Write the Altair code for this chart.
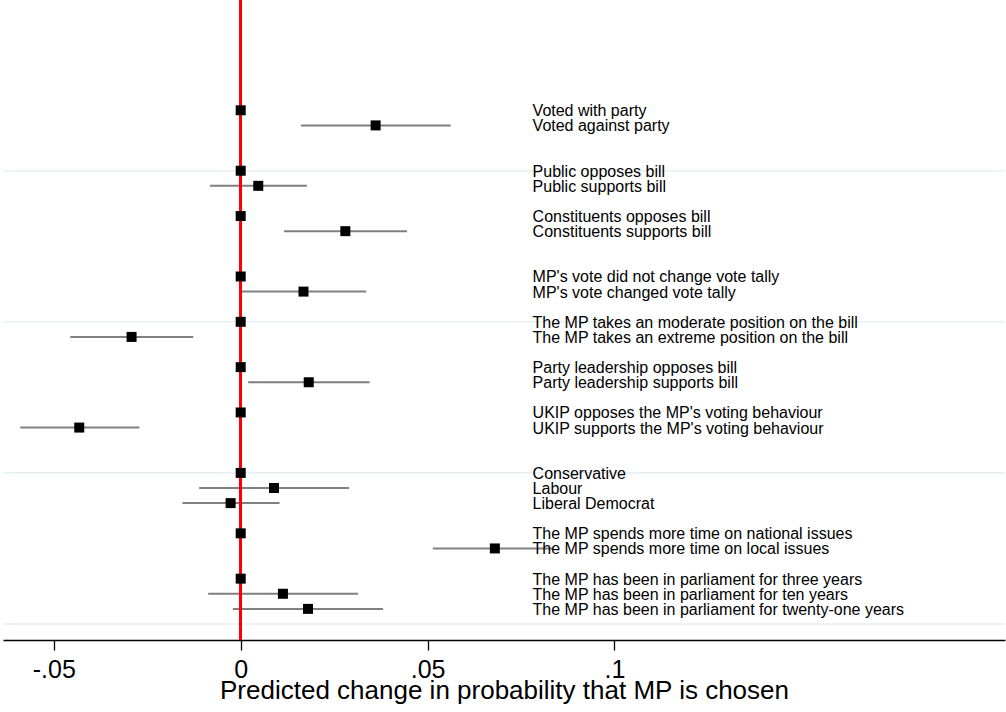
import altair as alt
import pandas as pd

# ---- data ----
labels = [
    "Voted with party", "Voted against party",
    "Public opposes bill", "Public supports bill",
    "Constituents opposes bill", "Constituents supports bill",
    "MP's vote did not change vote tally", "MP's vote changed vote tally",
    "The MP takes an moderate position on the bill", "The MP takes an extreme position on the bill",
    "Party leadership opposes bill", "Party leadership supports bill",
    "UKIP opposes the MP's voting behaviour", "UKIP supports the MP's voting behaviour",
    "Conservative", "Labour", "Liberal Democrat",
    "The MP spends more time on national issues", "The MP spends more time on local issues",
    "The MP has been in parliament for three years",
    "The MP has been in parliament for ten years",
    "The MP has been in parliament for twenty-one years",
]
rows = [0, 1, 4, 5, 7, 8, 11, 12, 14, 15, 17, 18, 20, 21, 24, 25, 26, 28, 29, 31, 32, 33]
estimates = [0, 0.0361, 0, 0.0047, 0, 0.0280, 0, 0.0168, 0, -0.0292, 0, 0.0182,
             0, -0.0432, 0, 0.0089, -0.0027, 0, 0.0680, 0, 0.0113, 0.0180]
ci_lo = [None, 0.0161, None, -0.0082, None, 0.0116, None, 0.0003, None, -0.0456, None, 0.0020,
         None, -0.0590, None, -0.0111, -0.0156, None, 0.0514, None, -0.0087, -0.0021]
ci_hi = [None, 0.0562, None, 0.0177, None, 0.0445, None, 0.0336, None, -0.0127, None, 0.0345,
         None, -0.0271, None, 0.0290, 0.0104, None, 0.0835, None, 0.0314, 0.0381]
separators = [4, 14, 24, 34]
tick_values = [-0.05, 0, 0.05, 0.1]
tick_labels = ["-.05", "0", ".05", ".1"]
label_x = 0.0781

df = pd.DataFrame({"label": labels, "row": rows, "est": estimates, "lo": ci_lo, "hi": ci_hi})
ci_df = df.dropna(subset=["lo", "hi"])
sep_df = pd.DataFrame({"row": separators})

label_expr = "''"
for v, l in reversed(list(zip(tick_values, tick_labels))):
    label_expr = f"abs(datum.value - ({v})) < 1e-9 ? '{l}' : ({label_expr})"

FONT = "Liberation Sans"

x_scale = alt.Scale(domain=[-0.0636, 0.2045], nice=False, zero=False)
y_scale = alt.Scale(domain=[-7.3, 35.06], reverse=True, nice=False, zero=False)

x_axis = alt.Axis(
    values=tick_values, labelExpr=label_expr, grid=False,
    title="Predicted change in probability that MP is chosen",
    labelFont=FONT, labelFontSize=25, labelColor="black", labelPadding=7,
    titleFont=FONT, titleFontSize=26, titleColor="black", titleFontWeight="normal",
    titleY=58.7, titleBaseline="alphabetic",
    domainColor="black", domainWidth=1.3, tickColor="black", tickWidth=1.3, tickSize=10,
    labelFlush=False,
)

base = alt.Chart(df)

sep = alt.Chart(sep_df).mark_rule(color="#e8f0f2", strokeWidth=1.6).encode(
    y=alt.Y("row:Q", scale=y_scale, axis=None)
)

ci = alt.Chart(ci_df).mark_rule(color="#808080", strokeWidth=2).encode(
    x=alt.X("lo:Q", scale=x_scale, axis=x_axis),
    x2="hi:Q",
    y=alt.Y("row:Q", scale=y_scale, axis=None),
)

zero_line = alt.Chart(df).mark_rule(color="#ff0000", strokeWidth=2).encode(
    x=alt.datum(0, scale=x_scale)
)

pts = base.mark_square(size=100, color="black", opacity=1, strokeWidth=0).encode(
    x=alt.X("est:Q", scale=x_scale, axis=x_axis),
    y=alt.Y("row:Q", scale=y_scale, axis=None),
)

txt = base.mark_text(align="left", baseline="alphabetic", dy=6, font=FONT,
                     fontSize=16, color="black").encode(
    x=alt.datum(label_x),
    y=alt.Y("row:Q", scale=y_scale, axis=None),
    text="label:N",
)

chart = alt.layer(sep, ci, zero_line, pts, txt).properties(
    width=1002, height=640,
    autosize="none",
    padding={"left": 3, "top": 0, "right": 1, "bottom": 72},
    background="white",
).configure_view(stroke=None)

chart.save("out.html", embed_options={"renderer": "svg", "actions": False})
